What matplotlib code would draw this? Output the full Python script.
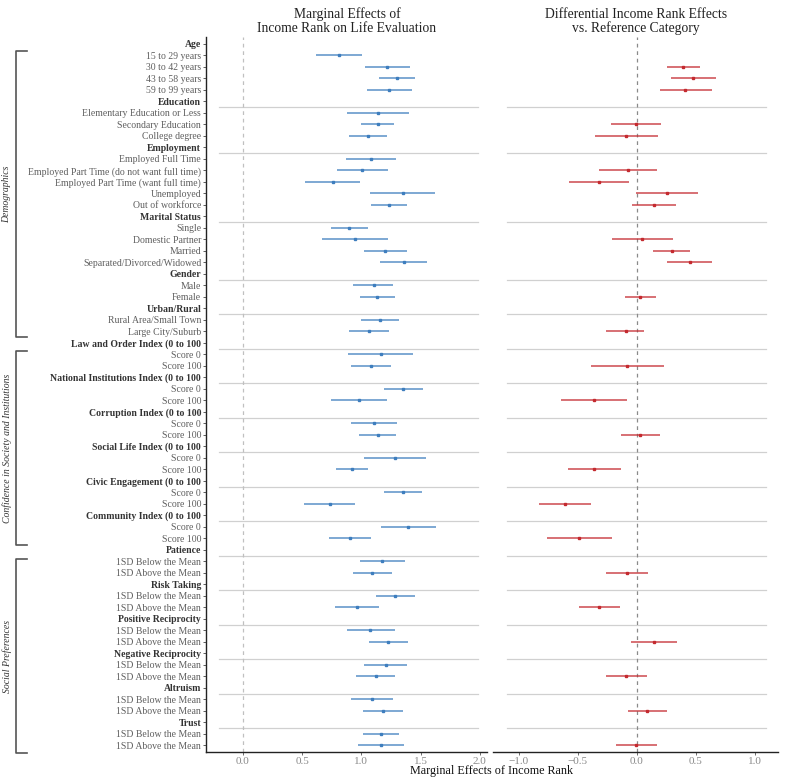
import matplotlib
matplotlib.use("Agg")
import matplotlib.pyplot as plt
import matplotlib.transforms as mtransforms
import numpy as np

plt.rcParams['font.family'] = ['Liberation Serif', 'DejaVu Serif']

nan = np.nan

# row labels (top to bottom); headers are the bold group names
labels = [
    "Age", "15 to 29 years", "30 to 42 years", "43 to 58 years", "59 to 99 years",
    "Education", "Elementary Education or Less", "Secondary Education", "College degree",
    "Employment", "Employed Full Time", "Employed Part Time (do not want full time)",
    "Employed Part Time (want full time)", "Unemployed", "Out of workforce",
    "Marital Status", "Single", "Domestic Partner", "Married", "Separated/Divorced/Widowed",
    "Gender", "Male", "Female",
    "Urban/Rural", "Rural Area/Small Town", "Large City/Suburb",
    "Law and Order Index (0 to 100", "Score 0", "Score 100",
    "National Institutions Index (0 to 100", "Score 0", "Score 100",
    "Corruption Index (0 to 100", "Score 0", "Score 100",
    "Social Life Index (0 to 100", "Score 0", "Score 100",
    "Civic Engagement (0 to 100", "Score 0", "Score 100",
    "Community Index (0 to 100", "Score 0", "Score 100",
    "Patience", "1SD Below the Mean", "1SD Above the Mean",
    "Risk Taking", "1SD Below the Mean", "1SD Above the Mean",
    "Positive Reciprocity", "1SD Below the Mean", "1SD Above the Mean",
    "Negative Reciprocity", "1SD Below the Mean", "1SD Above the Mean",
    "Altruism", "1SD Below the Mean", "1SD Above the Mean",
    "Trust", "1SD Below the Mean", "1SD Above the Mean",
]
headers = [0, 5, 9, 15, 20, 23, 26, 29, 32, 35, 38, 41, 44, 47, 50, 53, 56, 59]

# left panel: marginal effects (estimate, low, high)
me_est = [nan, 0.815, 1.22, 1.305, 1.236,
          nan, 1.14, 1.137, 1.054,
          nan, 1.08, 1.006, 0.758, 1.348, 1.231,
          nan, 0.897, 0.949, 1.202, 1.359,
          nan, 1.103, 1.134,
          nan, 1.157, 1.063,
          nan, 1.162, 1.083,
          nan, 1.353, 0.983,
          nan, 1.108, 1.14,
          nan, 1.285, 0.92,
          nan, 1.35, 0.732,
          nan, 1.396, 0.903,
          nan, 1.174, 1.091,
          nan, 1.288, 0.963,
          nan, 1.077, 1.228,
          nan, 1.208, 1.12,
          nan, 1.088, 1.182,
          nan, 1.168, 1.165]
me_lo = [nan, 0.615, 1.03, 1.151, 1.049,
         nan, 0.88, 0.994, 0.892,
         nan, 0.872, 0.792, 0.524, 1.077, 1.083,
         nan, 0.741, 0.669, 1.023, 1.157,
         nan, 0.934, 0.986,
         nan, 1.0, 0.895,
         nan, 0.886, 0.915,
         nan, 1.188, 0.746,
         nan, 0.912, 0.983,
         nan, 1.023, 0.786,
         nan, 1.188, 0.516,
         nan, 1.165, 0.726,
         nan, 0.986, 0.932,
         nan, 1.12, 0.781,
         nan, 0.875, 1.068,
         nan, 1.026, 0.952,
         nan, 0.912, 1.017,
         nan, 1.014, 0.975]
me_hi = [nan, 1.008, 1.413, 1.456, 1.425,
         nan, 1.399, 1.279, 1.219,
         nan, 1.291, 1.228, 0.991, 1.621, 1.382,
         nan, 1.057, 1.228, 1.382, 1.558,
         nan, 1.271, 1.282,
         nan, 1.319, 1.231,
         nan, 1.439, 1.248,
         nan, 1.519, 1.219,
         nan, 1.302, 1.296,
         nan, 1.544, 1.057,
         nan, 1.51, 0.943,
         nan, 1.63, 1.083,
         nan, 1.365, 1.256,
         nan, 1.453, 1.145,
         nan, 1.282, 1.39,
         nan, 1.387, 1.288,
         nan, 1.265, 1.353,
         nan, 1.322, 1.36]

# right panel: differential effects vs reference category
de_est = [nan, nan, 0.396, 0.48, 0.413,
          nan, nan, -0.008, -0.09,
          nan, nan, -0.073, -0.319, 0.26, 0.145,
          nan, nan, 0.047, 0.296, 0.45,
          nan, nan, 0.03,
          nan, nan, -0.095,
          nan, nan, -0.079,
          nan, nan, -0.364,
          nan, nan, 0.03,
          nan, nan, -0.358,
          nan, nan, -0.607,
          nan, nan, -0.486,
          nan, nan, -0.084,
          nan, nan, -0.319,
          nan, nan, 0.145,
          nan, nan, -0.09,
          nan, nan, 0.089,
          nan, nan, -0.003]
de_lo = [nan, nan, 0.257, 0.29, 0.193,
         nan, nan, -0.215, -0.352,
         nan, nan, -0.316, -0.57, -0.003, -0.037,
         nan, nan, -0.207, 0.139, 0.26,
         nan, nan, -0.098,
         nan, nan, -0.257,
         nan, nan, -0.391,
         nan, nan, -0.64,
         nan, nan, -0.134,
         nan, nan, -0.582,
         nan, nan, -0.83,
         nan, nan, -0.76,
         nan, nan, -0.26,
         nan, nan, -0.492,
         nan, nan, -0.048,
         nan, nan, -0.26,
         nan, nan, -0.073,
         nan, nan, -0.176]
de_hi = [nan, nan, 0.533, 0.67, 0.637,
         nan, nan, 0.204, 0.179,
         nan, nan, 0.17, -0.067, 0.522, 0.332,
         nan, nan, 0.304, 0.453, 0.64,
         nan, nan, 0.159,
         nan, nan, 0.064,
         nan, nan, 0.235,
         nan, nan, -0.084,
         nan, nan, 0.195,
         nan, nan, -0.134,
         nan, nan, -0.386,
         nan, nan, -0.21,
         nan, nan, 0.095,
         nan, nan, -0.143,
         nan, nan, 0.34,
         nan, nan, 0.084,
         nan, nan, 0.254,
         nan, nan, 0.17]

# group brackets: (label, first row, last row)
groups = [("Demographics", 0.6, 25.5),
          ("Confidence in Society and Institutions", 26.7, 43.6),
          ("Social Preferences", 44.8, 61.7)]

W, H = 788, 784
fig = plt.figure(figsize=(W / 100, H / 100), dpi=100)

def px_box(x0, x1, y0, y1):
    return [x0 / W, 1 - y1 / H, (x1 - x0) / W, (y1 - y0) / H]

ax1 = fig.add_axes(px_box(206, 487, 37, 752.3))
ax2 = fig.add_axes(px_box(493, 778, 37, 752.3))

y = np.arange(len(labels))
ylim = (61.6, -0.6)
blue = '#3E7EBE'
red = '#C42A2F'

for ax, est, lo, hi, col in [(ax1, me_est, me_lo, me_hi, blue),
                             (ax2, de_est, de_lo, de_hi, red)]:
    est = np.array(est); lo = np.array(lo); hi = np.array(hi)
    ok = ~np.isnan(est)
    ax.hlines(y[ok], lo[ok], hi[ok], color=col, lw=1.1, alpha=0.85, zorder=3)
    ax.plot(est[ok], y[ok], 's', color=col, ms=2.1, mec=col, zorder=4)
    ax.set_ylim(*ylim)
    for s in ['top', 'right']:
        ax.spines[s].set_visible(False)
    ax.spines['bottom'].set_color('#222222')
    ax.spines['bottom'].set_linewidth(1.0)
    ax.tick_params(axis='x', labelsize=8, labelcolor='#8A8A8A', color='#555555',
                   length=2.0, width=0.6, pad=1.5)

# separators between groups
for h in headers[1:]:
    ax1.axhline(h + 0.5, xmin=0.046, xmax=0.968, color='#D0D0D0', lw=0.9, zorder=1)
    ax2.axhline(h + 0.5, xmin=0.049, xmax=0.958, color='#D0D0D0', lw=0.9, zorder=1)

ax1.axvline(0, color='#C0C0C0', lw=0.9, ls=(0, (3, 3)), zorder=2)
ax2.axvline(0, color='#8A8A8A', lw=0.9, ls=(0, (3, 3)), zorder=2)

ax1.set_xlim(-0.31, 2.06)
ax1.set_xticks([0.0, 0.5, 1.0, 1.5, 2.0])
ax1.set_xticklabels(['0.0', '0.5', '1.0', '1.5', '2.0'])
ax2.set_xlim(-1.218, 1.197)
ax2.set_xticks([-1.0, -0.5, 0.0, 0.5, 1.0])
ax2.set_xticklabels(['\u22121.0', '\u22120.5', '0.0', '0.5', '1.0'])

ax1.set_yticks(y)
ax1.set_yticklabels(labels)
ax1.spines['left'].set_color('#222222')
ax1.spines['left'].set_linewidth(1.0)
ax1.tick_params(axis='y', labelsize=7.0, length=2.5, width=0.6, color='#444444', pad=1)
for i, t in enumerate(ax1.get_yticklabels()):
    if i in headers:
        t.set_fontweight('bold')
        t.set_color('#333333')
    else:
        t.set_color('#5E5E5E')

ax2.spines['left'].set_visible(False)
ax2.set_yticks([])

# brackets on the far left
tr = mtransforms.blended_transform_factory(fig.transFigure, ax1.transData)
xb, xt = 15.5 / W, 27 / W
for name, a, b in groups:
    ax1.plot([xt, xb, xb, xt], [a, a, b, b], color='#555555', lw=1.2,
             transform=tr, clip_on=False)
    ax1.text(7 / W, (a + b) / 2, name, transform=tr, rotation=90, ha='center',
             va='center', style='italic', fontsize=7, color='#333333')

fig.text(347 / W, 1 - 21.5 / H, "Marginal Effects of\nIncome Rank on Life Evaluation",
         ha='center', va='center', fontsize=9.8, color='#222222', linespacing=1.1)
fig.text(636 / W, 1 - 21.5 / H, "Differential Income Rank Effects\nvs. Reference Category",
         ha='center', va='center', fontsize=9.8, color='#222222', linespacing=1.1)
fig.text(492 / W, 1 - 770.7 / H, "Marginal Effects of Income Rank",
         ha='center', va='center', fontsize=8.7, color='#111111')

fig.savefig('out.png', dpi=100)
